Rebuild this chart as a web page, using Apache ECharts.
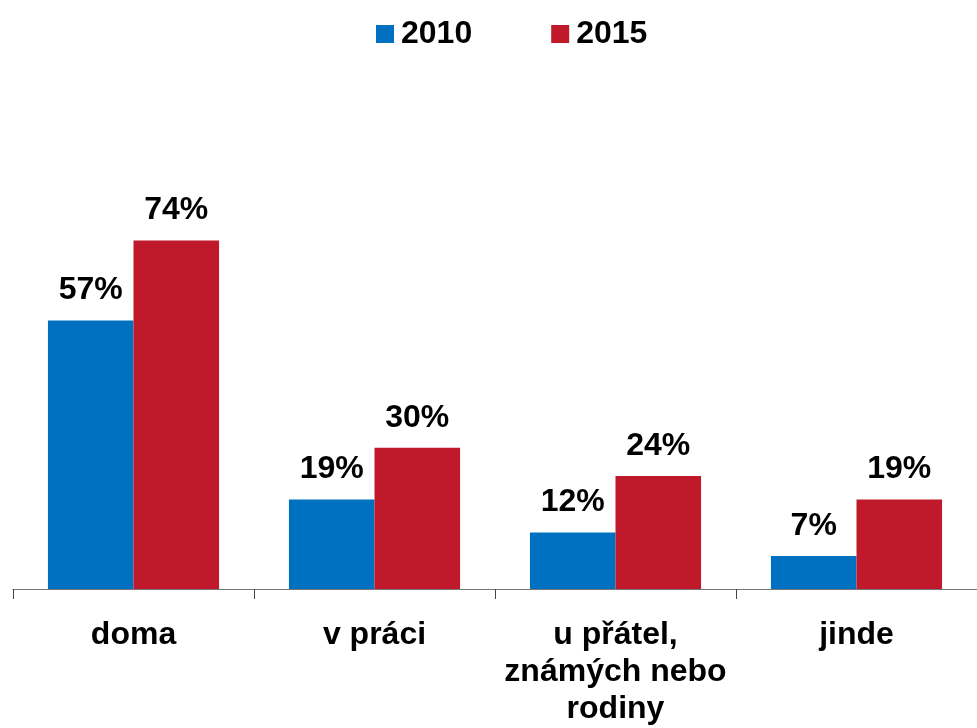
<!DOCTYPE html>
<html>
<head>
<meta charset="utf-8">
<script src="https://cdn.jsdelivr.net/npm/echarts@6/dist/echarts.min.js"></script>
<style>
  html, body { margin: 0; padding: 0; background: #fff; }
  #chart { width: 977px; height: 728px; }
</style>
</head>
<body>
<div id="chart"></div>
<script>
const categories = ['doma', 'v práci', 'u přátel,\nznámých nebo\nrodiny', 'jinde']
const values2010 = [57, 19, 12, 7]
const values2015 = [74, 30, 24, 19]

const font = 'Liberation Sans, Arial, sans-serif'
const chart = echarts.init(document.getElementById('chart'))

const labelStyle = {
  show: true,
  position: 'top',
  distance: 14,
  formatter: '{c}%',
  color: '#000',
  fontFamily: font,
  fontWeight: 'bold',
  fontSize: 32
}

chart.setOption({
  animation: false,
  legend: {
    top: 13,
    left: 371,
    itemWidth: 18,
    itemHeight: 18,
    itemGap: 79,
    icon: 'rect',
    textStyle: { color: '#000', fontFamily: font, fontWeight: 'bold', fontSize: 32, padding: [0, 0, 0, 2] },
    data: ['2010', '2015']
  },
  grid: { left: 13, width: 972, top: 118, bottom: 139, containLabel: false },
  xAxis: {
    type: 'category',
    data: categories,
    axisLine: { lineStyle: { color: '#777', width: 1 } },
    axisTick: { show: true, length: 10, lineStyle: { color: '#444' } },
    axisLabel: {
      color: '#000',
      fontFamily: font,
      fontWeight: 'bold',
      fontSize: 32,
      lineHeight: 37,
      margin: 28,
      interval: 0
    }
  },
  yAxis: { type: 'value', min: 0, max: 100, show: false },
  series: [
    {
      name: '2010',
      type: 'bar',
      data: values2010,
      barGap: '0%',
      barCategoryGap: '29%',
      itemStyle: { color: '#0070C0' },
      label: labelStyle
    },
    {
      name: '2015',
      type: 'bar',
      data: values2015,
      itemStyle: { color: '#C0192B' },
      label: labelStyle
    }
  ]
})
</script>
</body>
</html>
